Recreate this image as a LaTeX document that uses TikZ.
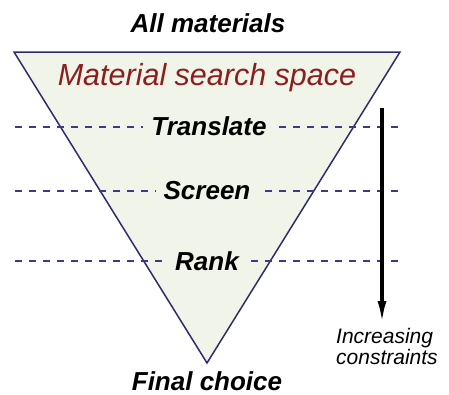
\documentclass[tikz,border=0pt]{standalone}
\usepackage{fontspec}
\setmainfont{Liberation Sans}
\usetikzlibrary{arrows.meta}
\definecolor{navy}{HTML}{2E2B70}
\definecolor{dashblue}{HTML}{3A3A8A}
\definecolor{funnelfill}{HTML}{F1F4E8}
\definecolor{darkred}{HTML}{8A1F1F}
\tikzset{
  boldlab/.style={font=\fontsize{26}{28}\selectfont\bfseries\itshape, inner sep=0pt, anchor=base},
  dashline/.style={draw=dashblue, line width=1.4pt, dash pattern=on 7pt off 7pt},
  funnel/.style={draw=navy, line width=1.5pt, fill=funnelfill, line join=miter},
  bigarrow/.style={line width=3.2pt, -{Latex[length=22pt,width=9pt]}},
}
\begin{document}
\begin{tikzpicture}[x=1pt,y=-1pt]
\useasboundingbox (0,0) rectangle (449,394);
\coordinate (tl) at (14,52);
\coordinate (tr) at (400,52);
\coordinate (ap) at (207,363);
\draw[funnel] (tl) -- (tr) -- (ap) -- cycle;

\node[boldlab] (all) at (208,32) {All materials};
\node[font=\fontsize{30.5}{34}\selectfont\itshape, text=darkred, inner sep=0pt, anchor=base] (mss) at (207,85) {Material search space};

\node[boldlab, inner xsep=8pt] (tr1) at (209,135) {Translate};
\node[boldlab, inner xsep=8pt] (sc) at (207,199) {Screen};
\node[boldlab, inner xsep=8pt] (rk) at (207,270) {Rank};

\coordinate (l1) at (15,127); \coordinate (r1) at (398,127);
\coordinate (l2) at (15,191); \coordinate (r2) at (398,191);
\coordinate (l3) at (15,261); \coordinate (r3) at (398,261);
\draw[dashline] (l1) -- (l1 -| tr1.west);
\draw[dashline] (r1) -- (r1 -| tr1.east);
\draw[dashline] (l2) -- (l2 -| sc.west);
\draw[dashline] (r2) -- (r2 -| sc.east);
\draw[dashline] (l3) -- (l3 -| rk.west);
\draw[dashline] (r3) -- (r3 -| rk.east);

\node[boldlab] (fc) at (207,390) {Final choice};

\coordinate (atop) at (382,108);
\coordinate (abot) at (382,323);
\draw[bigarrow] (atop) -- (abot);

\node[font=\fontsize{21}{21}\selectfont\itshape, align=left, inner sep=0pt, anchor=north west] (inc) at (336,328) {Increasing\\constraints};
\end{tikzpicture}
\end{document}
